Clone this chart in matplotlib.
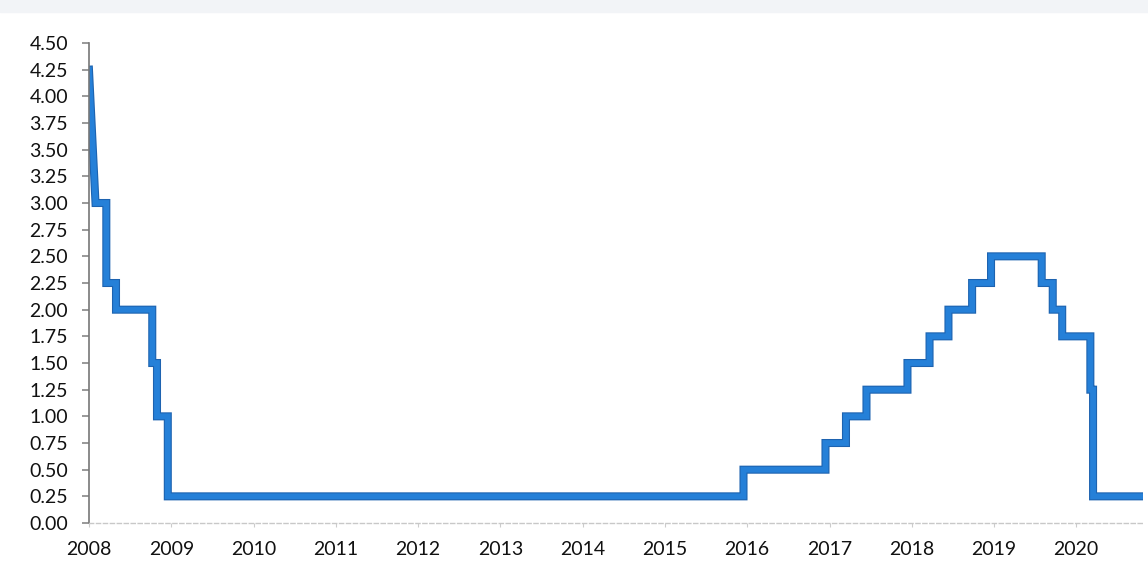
import numpy as np
import pandas as pd
import matplotlib
matplotlib.use("Agg")
import matplotlib.pyplot as plt
import matplotlib.patheffects as pe

# fed funds target, upper bound (percent)
start_date = "2008-01-01"
start_rate = 4.25
change_dates = ["2008-01-30", "2008-03-18", "2008-04-30", "2008-10-08", "2008-10-29",
                "2008-12-16", "2015-12-16", "2016-12-14", "2017-03-15", "2017-06-14",
                "2017-12-13", "2018-03-21", "2018-06-13", "2018-09-26", "2018-12-19",
                "2019-08-01", "2019-09-19", "2019-10-31", "2020-03-04", "2020-03-16"]
rates = [3.00, 2.25, 2.00, 1.50, 1.00,
         0.25, 0.50, 0.75, 1.00, 1.25,
         1.50, 1.75, 2.00, 2.25, 2.50,
         2.25, 2.00, 1.75, 1.25, 0.25]
end_date = "2020-10-23"
years = list(range(2008, 2021))
yticks = np.arange(0, 4.51, 0.25)

plt.rcParams['font.family'] = ['Lato', 'DejaVu Sans']

# step path: first move is a straight slope, then steps
d = pd.to_datetime(change_dates)
xs = [pd.Timestamp(start_date), d[0]]
ys = [start_rate, rates[0]]
for i in range(1, len(d)):
    xs += [d[i], d[i]]
    ys += [rates[i - 1], rates[i]]
xs.append(pd.Timestamp(end_date))
ys.append(rates[-1])

fig = plt.figure(figsize=(11.48, 5.65), dpi=100)
ax = fig.add_axes([0.0775, 0.0743, 0.918, 0.8496])

# light band left from the cropped page header
fig.patches.append(plt.Rectangle((0, 0.978), 1, 0.022, transform=fig.transFigure,
                                 color="#f2f4f7", zorder=0))

ax.plot(xs, ys, color="#2580d8", lw=4.2, solid_joinstyle="miter",
        path_effects=[pe.Stroke(linewidth=5.8, foreground="#1d63b0"), pe.Normal()])

ax.set_ylim(0, 4.5)
ax.set_yticks(yticks)
ax.set_yticklabels([f"{v:.2f}" for v in yticks])
ax.set_xlim(pd.Timestamp(start_date), pd.Timestamp(end_date))
ax.set_xticks([pd.Timestamp(f"{y}-01-01") for y in years])
ax.set_xticklabels([str(y) for y in years])

for s in ["top", "right"]:
    ax.spines[s].set_visible(False)
ax.spines["left"].set_color("#777777")
ax.spines["left"].set_linewidth(1.2)
ax.spines["bottom"].set_color("#c8c8c8")
ax.spines["bottom"].set_linestyle((0, (3, 2)))
ax.spines["bottom"].set_linewidth(1.0)

ax.tick_params(axis="y", length=5, width=1.2, color="#888888", pad=10, labelsize=14,
               labelcolor="#111111")
ax.tick_params(axis="x", length=3, width=0.8, color="#cccccc", pad=10, labelsize=14,
               labelcolor="#111111")

fig.savefig("out.png", dpi=100)
